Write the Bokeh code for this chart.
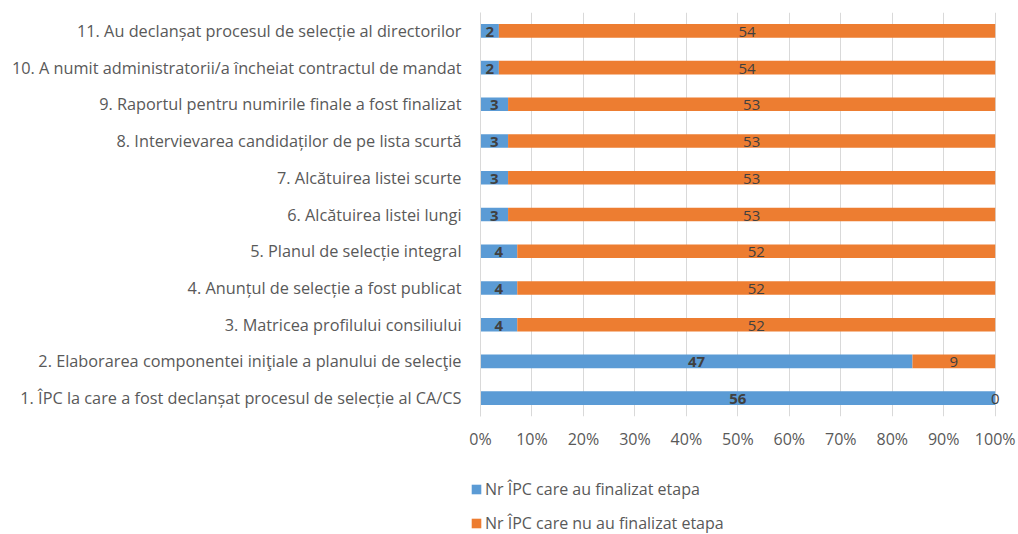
from bokeh.plotting import figure
from bokeh.layouts import column, row
from bokeh.models import ColumnDataSource, FactorRange, Legend, LegendItem, NumeralTickFormatter, FixedTicker
from bokeh.core.properties import value
from bokeh.embed import file_html
from bokeh.resources import INLINE

categories = [
    "1. ÎPC la care a fost declanșat procesul de selecție al CA/CS",
    "2. Elaborarea componentei iniţiale a planului de selecţie",
    "3. Matricea profilului consiliului",
    "4. Anunțul de selecție a fost publicat",
    "5. Planul de selecție integral",
    "6. Alcătuirea listei lungi",
    "7. Alcătuirea listei scurte",
    "8. Intervievarea candidaților de pe lista scurtă",
    "9. Raportul pentru numirile finale a fost finalizat",
    "10. A numit administratorii/a încheiat contractul de mandat",
    "11. Au declanșat procesul de selecție al directorilor",
]
finalized = [56, 47, 4, 4, 4, 3, 3, 3, 3, 2, 2]
not_finalized = [0, 9, 52, 52, 52, 53, 53, 53, 53, 54, 54]
series_names = ["Nr ÎPC care au finalizat etapa", "Nr ÎPC care nu au finalizat etapa"]
x_ticks = [0, 0.1, 0.2, 0.3, 0.4, 0.5, 0.6, 0.7, 0.8, 0.9, 1.0]

BLUE = "#5B9BD5"
ORANGE = "#ED7D31"
FONT = "Open Sans"

tot = [a + b for a, b in zip(finalized, not_finalized)]
f_frac = [a / t for a, t in zip(finalized, tot)]
src = ColumnDataSource(dict(
    cat=categories,
    b_left=[0.0] * len(categories),
    b_right=f_frac,
    o_left=f_frac,
    o_right=[1.0] * len(categories),
    b_mid=[f / 2 for f in f_frac],
    o_mid=[(f + 1) / 2 for f in f_frac],
    b_lab=[str(v) for v in finalized],
    o_lab=[str(v) for v in not_finalized],
))

p = figure(
    width=1016, height=460,
    y_range=FactorRange(*categories, range_padding=0),
    x_range=(0, 1.02),
    output_backend="svg", toolbar_location=None,
    min_border_left=480, min_border_right=11, min_border_top=12, min_border_bottom=44,
)
p.outline_line_color = None
p.background_fill_color = "white"

p.hbar(y="cat", left="b_left", right="b_right", height=0.37, source=src,
       fill_color=BLUE, line_color=None)
p.hbar(y="cat", left="o_left", right="o_right", height=0.37, source=src,
       fill_color=ORANGE, line_color=None)

p.text(x="b_mid", y="cat", text="b_lab", source=src, text_align="center",
       text_baseline="middle", text_font=value(FONT), text_font_size="15px",
       text_font_style="bold", text_color="#404040", y_offset=1)
p.text(x="o_mid", y="cat", text="o_lab", source=src, text_align="center",
       text_baseline="middle", text_font=value(FONT), text_font_size="15px",
       text_color="#404040", y_offset=1)

p.xaxis.ticker = FixedTicker(ticks=x_ticks)
p.xaxis.formatter = NumeralTickFormatter(format="0%")
p.xaxis.axis_line_color = None
p.xaxis.major_tick_line_color = None
p.xaxis.minor_tick_line_color = None
p.xaxis.major_label_standoff = 5
p.xaxis.major_label_text_font = FONT
p.xaxis.major_label_text_font_size = "16px"
p.xaxis.major_label_text_color = "#595959"

p.yaxis.axis_line_color = "#D9D9D9"
p.yaxis.major_tick_line_color = None
p.yaxis.minor_tick_line_color = None
p.yaxis.major_label_standoff = 13
p.yaxis.major_label_text_font = FONT
p.yaxis.major_label_text_font_size = "16.3px"
p.yaxis.major_label_text_color = "#595959"

p.xgrid.grid_line_color = "#D9D9D9"
p.ygrid.grid_line_color = None

# legend figure
lf = figure(width=1016, height=74, output_backend="svg", toolbar_location=None,
            x_range=(0, 1), y_range=(0, 1),
            min_border_left=0, min_border_right=0, min_border_top=0, min_border_bottom=0)
lf.axis.visible = False
lf.grid.visible = False
lf.outline_line_color = None
d1 = lf.rect(x=[-5], y=[-5], width=0.1, height=0.1, fill_color=BLUE, line_color=None)
d2 = lf.rect(x=[-5], y=[-5], width=0.1, height=0.1, fill_color=ORANGE, line_color=None)
legend = Legend(items=[LegendItem(label=series_names[0], renderers=[d1]),
                       LegendItem(label=series_names[1], renderers=[d2])],
                location=(470, 0), orientation="vertical",
                border_line_color=None, background_fill_alpha=0,
                label_text_font=FONT, label_text_font_size="16px",
                label_text_color="#595959", glyph_width=12, glyph_height=12,
                label_standoff=3, spacing=12, padding=0, margin=0,
                label_height=20)
lf.add_layout(legend, "center")

open("out.html", "w").write(file_html(column(p, row(lf)), INLINE))
